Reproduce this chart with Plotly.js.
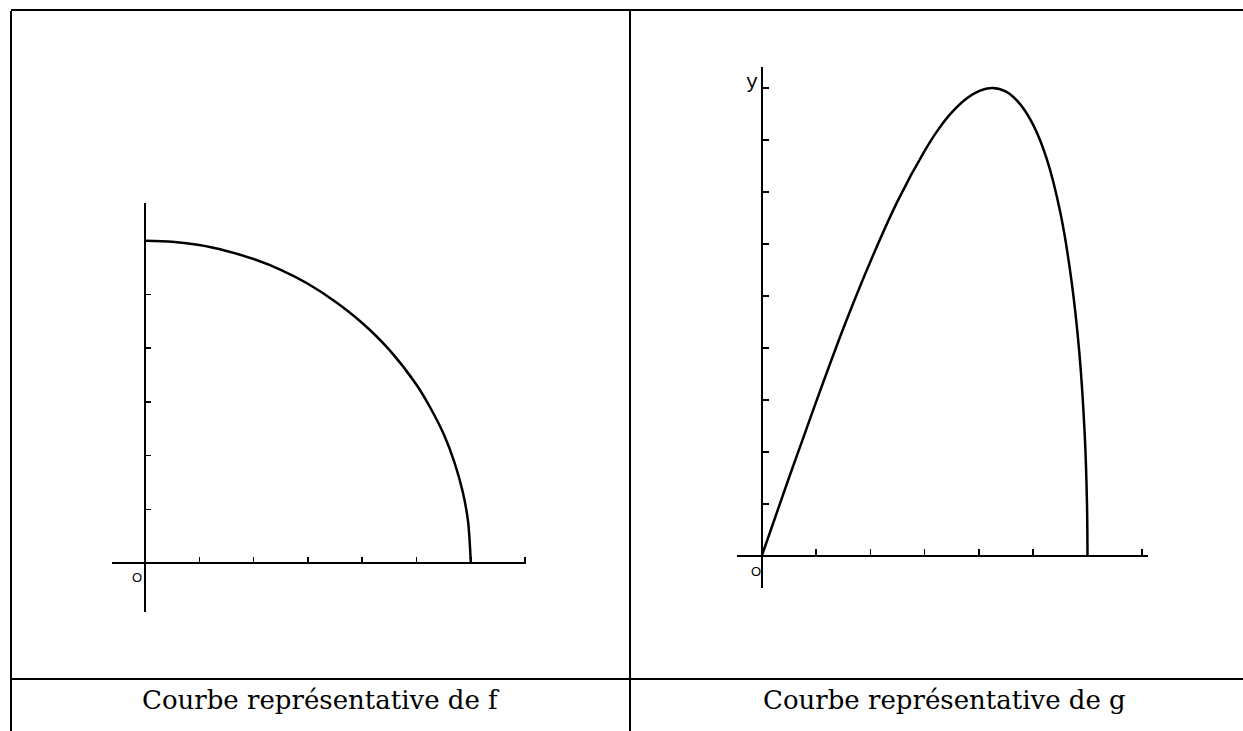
<!DOCTYPE html>
<html>
<head>
<meta charset="utf-8">
<script src="https://cdn.plot.ly/plotly-3.0.1.min.js"></script>
<style>html,body{margin:0;padding:0;background:#fff;}#chart{width:1243px;height:731px;}</style>
</head>
<body>
<div id="chart"></div>
<script>
// Curve of f
const fX = [0, 0.5, 1, 1.5, 2, 2.5, 3, 3.5, 4, 4.5, 5, 5.25, 5.5, 5.7, 5.85, 5.95, 6];
const fY = [6.0, 5.98, 5.92, 5.81, 5.66, 5.46, 5.2, 4.87, 4.47, 3.97, 3.32, 2.9, 2.4, 1.87, 1.33, 0.77, 0];
// Curve of g
const gX = [0, 0.25, 0.5, 0.75, 1, 1.5, 2, 2.5, 3, 3.25, 3.5, 3.75, 4, 4.25, 4.5, 4.75, 5, 5.25, 5.5, 5.7, 5.85, 5.95, 5.99, 6];
const gY = [0, 0.75, 1.5, 2.23, 2.96, 4.37, 5.66, 6.82, 7.79, 8.2, 8.53, 8.78, 8.94, 9.0, 8.93, 8.7, 8.29, 7.63, 6.6, 5.33, 3.9, 2.3, 1.0, 0];
// Ticks
const fXTicks = [1, 2, 3, 4, 5, 6, 7];
const fYTicks = [1, 2, 3, 4, 5, 6];
const gXTicks = [1, 2, 3, 4, 5, 6, 7];
const gYTicks = [1, 2, 3, 4, 5, 6, 7, 8, 9];
// Texts
const captionF = "Courbe représentative de f";
const captionG = "Courbe représentative de g";
const originLabel = "O";
const yLabel = "y";

const W = 1243, H = 731;
const px = v => v / W;
const py = v => 1 - v / H;

const traces = [
  {x: fX, y: fY, xaxis: 'x', yaxis: 'y', mode: 'lines', line: {color: '#000', width: 2.5, shape: 'spline', smoothing: 0.8}, hoverinfo: 'skip'},
  {x: gX, y: gY, xaxis: 'x2', yaxis: 'y2', mode: 'lines', line: {color: '#000', width: 2.5, shape: 'spline', smoothing: 0.8}, hoverinfo: 'skip'}
];

const axCommon = {showgrid: false, zeroline: false, showline: true, linecolor: '#000', linewidth: 2,
  ticks: 'inside', tickcolor: '#000', tickwidth: 1.5, showticklabels: false, tickmode: 'array', fixedrange: true};

const layout = {
  width: W, height: H, autosize: false,
  margin: {l: 0, r: 0, t: 0, b: 0, pad: 0},
  paper_bgcolor: '#fff', plot_bgcolor: 'rgba(0,0,0,0)',
  showlegend: false,
  xaxis: Object.assign({}, axCommon, {domain: [px(112.4), px(526.2)], range: [-0.6, 7.02], anchor: 'free', position: py(563), tickvals: fXTicks, ticklen: 5}),
  yaxis: Object.assign({}, axCommon, {domain: [py(612.4), py(203.2)], range: [-0.92, 6.7], anchor: 'free', position: px(145), tickvals: fYTicks, ticklen: 5}),
  xaxis2: Object.assign({}, axCommon, {domain: [px(737.3), px(1147.8)], range: [-0.45, 7.11], anchor: 'free', position: py(556), tickvals: gXTicks, ticklen: 6}),
  yaxis2: Object.assign({}, axCommon, {domain: [py(588), py(67.2)], range: [-0.615, 9.4], anchor: 'free', position: px(761.7), tickvals: gYTicks, ticklen: 6}),
  shapes: [
    {type: 'line', xref: 'paper', yref: 'paper', x0: px(11), x1: px(11), y0: py(11), y1: 0, line: {color: '#000', width: 2}},
    {type: 'line', xref: 'paper', yref: 'paper', x0: px(11), x1: 1, y0: py(10), y1: py(10), line: {color: '#000', width: 2}},
    {type: 'line', xref: 'paper', yref: 'paper', x0: px(630), x1: px(630), y0: py(10), y1: 0, line: {color: '#000', width: 2}},
    {type: 'line', xref: 'paper', yref: 'paper', x0: px(11), x1: 1, y0: py(679), y1: py(679), line: {color: '#000', width: 2}}
  ],
  annotations: [
    {text: captionF, xref: 'paper', yref: 'paper', x: px(321), y: py(700), xanchor: 'center', yanchor: 'middle', showarrow: false,
     font: {family: 'DejaVu Serif', size: 26, color: '#000'}},
    {text: captionG, xref: 'paper', yref: 'paper', x: px(944), y: py(700), xanchor: 'center', yanchor: 'middle', showarrow: false,
     font: {family: 'DejaVu Serif', size: 26, color: '#000'}},
    {text: originLabel, xref: 'x', yref: 'y', x: -0.14, y: -0.27, xanchor: 'center', yanchor: 'middle', showarrow: false,
     font: {family: 'Liberation Sans', size: 13, color: '#000'}},
    {text: originLabel, xref: 'x2', yref: 'y2', x: -0.105, y: -0.29, xanchor: 'center', yanchor: 'middle', showarrow: false,
     font: {family: 'Liberation Sans', size: 13, color: '#000'}},
    {text: yLabel, xref: 'x2', yref: 'y2', x: -0.18, y: 9.1, xanchor: 'center', yanchor: 'middle', showarrow: false,
     font: {family: 'Liberation Mono', size: 20, color: '#000'}}
  ]
};

Plotly.newPlot('chart', traces, layout, {staticPlot: true, displayModeBar: false});
</script>
</body>
</html>
